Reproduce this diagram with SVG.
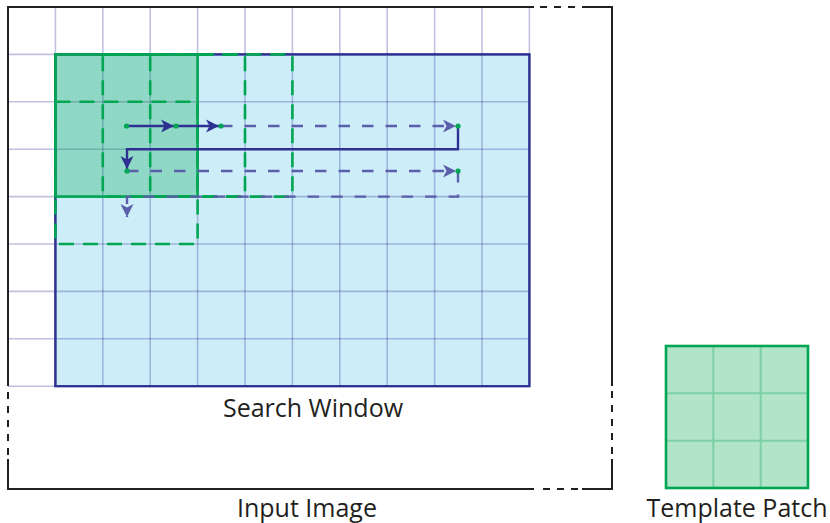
<svg xmlns="http://www.w3.org/2000/svg" width="830" height="523" viewBox="0 0 830 523">
  <style>
    .frame { fill: none; stroke: #231f20; stroke-width: 2; }
    .frame-dash { fill: none; stroke: #231f20; stroke-width: 2; stroke-dasharray: 7 7; }
    .grid { fill: none; stroke: #2e3192; stroke-opacity: 0.3; stroke-width: 1.6; }
    .sw { fill: #cdeef9; stroke: #2e3192; stroke-width: 2; }
    .patch-fill { fill: #00a651; fill-opacity: 0.3; stroke: none; }
    .patch-solid { fill: none; stroke: #00a651; stroke-width: 2.6; }
    .patch-dash { fill: none; stroke: #00a651; stroke-width: 2.6; stroke-dasharray: 15 9; }
    .tgrid { fill: none; stroke: #00a651; stroke-opacity: 0.3; stroke-width: 2; }
    .path-solid { fill: none; stroke: #2e3192; stroke-width: 2.4; }
    .path-dash { fill: none; stroke: #5a5eab; stroke-width: 2.4; stroke-dasharray: 11.5 12; }
    .dot { fill: #00a651; }
    .label { font-family: "Open Sans", "Noto Sans", "DejaVu Sans", sans-serif; font-size: 25px; fill: #231f20; text-anchor: middle; }
  </style>
  <defs>
    <marker id="arrow-solid" markerUnits="userSpaceOnUse" markerWidth="14" markerHeight="14" refX="13" refY="6.5" orient="auto" overflow="visible">
      <path d="M0,0 L13,6.5 L0,13 L3.5,6.5 Z" fill="#2e3192"/>
    </marker>
    <marker id="arrow-dash" markerUnits="userSpaceOnUse" markerWidth="14" markerHeight="14" refX="13" refY="6.5" orient="auto" overflow="visible">
      <path d="M0,0 L13,6.5 L0,13 L3.5,6.5 Z" fill="#5a5eab"/>
    </marker>
  </defs>
  <rect width="830" height="523" fill="#ffffff"/>

  <g id="search-window">
    <rect class="sw" x="55.4" y="54.4" width="474" height="331.8"/>
  </g>

  <g id="input-image">
    <g class="grid">
      <path d="M55.4,7 V386.2 M102.8,7 V386.2 M150.2,7 V386.2 M197.6,7 V386.2 M245,7 V386.2 M292.4,7 V386.2 M339.8,7 V386.2 M387.2,7 V386.2 M434.6,7 V386.2 M482,7 V386.2 M529.4,7 V54.4"/>
      <path d="M8,54.4 H529.4 M8,101.8 H529.4 M8,149.2 H529.4 M8,196.6 H529.4 M8,244 H529.4 M8,291.4 H529.4 M8,338.8 H529.4 M8,386.2 H55.4"/>
    </g>
    <path class="frame" d="M8,386 V7 H534 M582,7 H612 V386 M612,459 V489 H582 M534,489 H8 V459"/>
    <path class="frame-dash" d="M540,7 H578 M612,391 V455 M578,489 H540 M8,455 V391"/>
    <text class="label" x="307" y="517">Input Image</text>
  </g>

  <g id="search-window-border">
    <rect x="55.4" y="54.4" width="474" height="331.8" fill="none" stroke="#2e3192" stroke-width="2"/>
    <text class="label" x="313" y="417">Search Window</text>
  </g>

  <g id="patch-positions">
    <rect class="patch-fill" x="55.4" y="54.4" width="142.2" height="142.2"/>
    <rect class="patch-dash" x="102.8" y="54.4" width="142.2" height="142.2"/>
    <rect class="patch-dash" x="150.2" y="54.4" width="142.2" height="142.2"/>
    <rect class="patch-dash" x="55.4" y="101.8" width="142.2" height="142.2"/>
    <rect class="patch-solid" x="55.4" y="54.4" width="142.2" height="142.2"/>
  </g>

  <g id="template-patch">
    <rect class="patch-fill" x="666" y="346" width="142" height="142"/>
    <path class="tgrid" d="M713.3,347 V487 M760.7,347 V487 M667,393.3 H807 M667,440.7 H807"/>
    <rect class="patch-solid" x="666" y="346" width="142" height="142"/>
    <text class="label" x="737" y="517">Template Patch</text>
  </g>

  <g id="connectors">
    <path class="path-solid" d="M126.5,126 H174" marker-end="url(#arrow-solid)"/>
    <path class="path-solid" d="M176,126 H219" marker-end="url(#arrow-solid)"/>
    <path class="path-dash" d="M221,126 H456" marker-end="url(#arrow-dash)"/>
    <path class="path-solid" d="M458,126 V149.2 H127 V169" marker-end="url(#arrow-solid)"/>
    <path class="path-dash" d="M127,171 H456" marker-end="url(#arrow-dash)"/>
    <path class="path-dash" d="M458,171 V196.6 H127 V217" marker-end="url(#arrow-dash)"/>
    <g class="dot">
      <circle cx="126.5" cy="126" r="2.6"/>
      <circle cx="176" cy="126" r="2.6"/>
      <circle cx="221" cy="126" r="2.6"/>
      <circle cx="458" cy="126" r="2.6"/>
      <circle cx="127" cy="171" r="2.6"/>
      <circle cx="458" cy="171" r="2.6"/>
    </g>
  </g>
</svg>
